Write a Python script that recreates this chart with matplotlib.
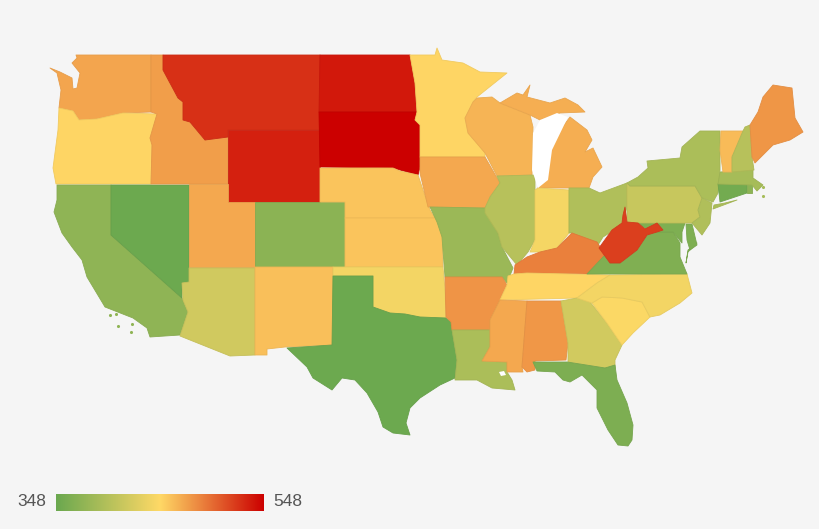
#!/usr/bin/env python3
"""US state choropleth, 348-548 scale running green to yellow to red."""

import numpy as np
import matplotlib
matplotlib.use("Agg")
import matplotlib.pyplot as plt
from matplotlib.colors import LinearSegmentedColormap, Normalize, to_rgb
from matplotlib.patches import Polygon

BG = "#f5f5f5"
SCALE_MIN, SCALE_MAX = 348, 548

states = ["WA", "OR", "CA", "NV", "ID", "MT", "WY", "UT", "AZ", "CO", "NM",
          "ND", "SD", "NE", "KS", "OK", "TX", "MN", "IA", "MO", "AR", "LA",
          "WI", "IL", "MI", "IN", "OH", "KY", "TN", "MS", "AL", "GA", "FL",
          "SC", "NC", "VA", "MD", "PA", "NY", "NJ", "CT", "RI", "MA",
          "VT", "NH", "ME", "WV"]
values = [472, 450, 373, 350, 475, 526, 533, 470, 416, 370, 460,
          537, 548, 458, 458, 440, 350, 450, 470, 381, 480, 392,
          465, 400, 468, 441, 395, 489, 450, 470, 478, 417, 361,
          445, 440, 363, 362, 411, 392, 395, 355, 372, 388,
          462, 400, 479, 519]

# outlines traced in image pixels
outlines = {
    "WA": [[(76, 55), (151, 55), (151, 112), (123, 113), (97, 119), (79, 120), (73, 111),
            (59, 108), (61, 90), (57, 73), (50, 68), (60, 72), (72, 78), (73, 89), (77, 88),
            (80, 73), (72, 63), (77, 58)]],
    "OR": [[(59, 108), (73, 111), (79, 120), (97, 119), (123, 113), (157, 114), (150, 138),
            (152, 145), (151, 184), (56, 184), (53, 168), (58, 130)]],
    "CA": [[(57, 185), (111, 185), (111, 235), (182, 298), (183, 300), (188, 312), (183, 327),
            (180, 335), (150, 337), (147, 328), (133, 318), (105, 307), (87, 277), (82, 260),
            (72, 247), (62, 233), (54, 212), (57, 200)]],
    "NV": [[(111, 185), (189, 185), (189, 282), (182, 283), (182, 298), (111, 235)]],
    "ID": [[(151, 55), (163, 55), (163, 70), (178, 98), (183, 102), (183, 120), (190, 122),
            (205, 140), (228, 137), (228, 184), (151, 184), (152, 145), (150, 138), (157, 114),
            (151, 112)]],
    "MT": [[(163, 55), (320, 55), (320, 130), (228, 130), (228, 137), (205, 140), (190, 122),
            (183, 120), (183, 102), (178, 98), (163, 70)]],
    "WY": [[(228, 130), (320, 130), (320, 202), (228, 202)]],
    "UT": [[(189, 184), (228, 184), (228, 202), (255, 202), (255, 267), (189, 267)]],
    "AZ": [[(189, 268), (255, 268), (255, 355), (230, 356), (180, 336), (183, 327), (188, 312),
            (183, 300), (182, 283), (189, 282)]],
    "CO": [[(255, 202), (345, 202), (345, 267), (255, 267)]],
    "NM": [[(255, 267), (333, 267), (333, 345), (285, 347), (267, 349), (267, 355), (255, 355)]],
    "ND": [[(320, 55), (410, 55), (415, 83), (417, 112), (319, 112)]],
    "SD": [[(319, 112), (417, 112), (415, 120), (420, 125), (420, 167), (418, 175), (400, 170),
            (393, 168), (320, 167)]],
    "NE": [[(320, 168), (393, 168), (400, 171), (418, 175), (423, 190), (430, 210), (435, 218),
            (345, 218), (345, 202), (320, 202)]],
    "KS": [[(345, 218), (435, 218), (442, 230), (443, 267), (345, 267)]],
    "OK": [[(333, 267), (443, 267), (445, 290), (446, 318), (420, 317), (405, 314), (390, 313),
            (373, 307), (373, 276), (333, 276)]],
    "TX": [[(333, 276), (373, 276), (373, 307), (390, 313), (405, 314), (420, 317), (446, 318),
            (451, 322), (452, 330), (457, 360), (455, 378), (440, 385), (420, 398), (410, 408),
            (406, 423), (410, 435), (393, 433), (383, 427), (378, 412), (367, 393), (355, 380),
            (342, 378), (332, 390), (313, 378), (307, 367), (287, 348), (332, 345)]],
    "MN": [[(410, 55), (435, 55), (437, 48), (442, 60), (463, 63), (480, 72), (507, 73),
            (477, 97), (473, 102), (465, 118), (468, 133), (485, 152), (485, 157), (420, 157),
            (420, 125), (415, 120), (417, 112), (415, 83)]],
    "IA": [[(420, 157), (485, 157), (500, 183), (490, 197), (485, 208), (428, 207), (420, 173)]],
    "MO": [[(430, 207), (485, 208), (498, 233), (502, 247), (513, 268), (507, 283),
            (502, 277), (445, 277), (442, 237), (437, 222)]],
    "AR": [[(445, 277), (502, 277), (507, 285), (500, 300), (490, 320), (490, 333), (488, 330),
            (452, 330), (451, 322), (446, 317)]],
    "LA": [[(452, 330), (490, 330), (490, 347), (482, 361), (507, 362), (507, 372), (512, 380),
            (515, 390), (492, 388), (477, 380), (455, 380), (457, 360)]],
    "WI": [[(477, 98), (492, 97), (500, 103), (530, 115), (533, 127), (532, 175), (497, 176),
            (485, 153), (468, 133), (465, 118), (473, 102)]],
    "IL": [[(497, 176), (535, 175), (535, 240), (528, 252), (517, 265), (502, 247), (498, 233),
            (485, 213), (485, 208), (490, 197), (500, 183)]],
    "MI": [[(500, 103), (517, 93), (523, 95), (530, 85), (527, 97), (550, 103), (565, 98),
            (578, 105), (585, 112), (560, 113), (540, 120), (530, 115)],
           [(570, 117), (587, 130), (592, 140), (585, 152), (593, 148), (602, 167), (593, 177),
            (589, 188), (538, 188), (550, 150), (555, 137)]],
    "IN": [[(535, 190), (538, 188), (569, 190), (569, 233), (557, 248), (540, 252), (530, 252),
            (535, 240)]],
    "OH": [[(569, 188), (589, 188), (600, 193), (627, 183), (627, 207), (622, 225), (603, 237),
            (598, 245), (572, 233), (569, 233)]],
    "KY": [[(514, 274), (515, 265), (527, 257), (540, 252), (557, 248), (572, 233), (597, 242),
            (605, 255), (587, 274), (527, 273)]],
    "TN": [[(508, 276), (514, 274), (527, 273), (610, 275), (597, 283), (577, 298), (500, 300),
            (507, 285)]],
    "MS": [[(500, 300), (527, 301), (522, 367), (523, 372), (507, 372), (507, 362), (482, 361),
            (490, 347), (490, 320)]],
    "AL": [[(527, 301), (561, 301), (568, 343), (566, 360), (535, 361), (535, 370), (527, 372),
            (522, 367)]],
    "GA": [[(561, 301), (577, 298), (590, 302), (607, 323), (622, 345), (615, 360), (615, 368),
            (605, 368), (568, 362), (568, 343)]],
    "FL": [[(533, 362), (567, 362), (605, 368), (615, 365), (617, 380), (627, 403), (633, 425),
            (632, 440), (628, 446), (618, 445), (608, 430), (597, 408), (597, 390), (582, 375),
            (570, 382), (563, 380), (555, 372), (537, 371)]],
    "SC": [[(592, 303), (602, 297), (622, 298), (642, 302), (650, 317), (633, 333), (622, 345),
            (607, 323)]],
    "NC": [[(610, 275), (687, 274), (692, 293), (680, 303), (660, 315), (650, 317), (642, 302),
            (622, 298), (602, 297), (592, 303), (577, 298), (597, 283)]],
    "VA": [[(587, 274), (605, 255), (610, 263), (620, 263), (637, 250), (647, 235), (657, 232),
            (673, 232), (680, 243), (680, 257), (687, 274)],
           [(697, 243), (688, 252), (686, 263), (688, 250)]],
    "WV": [[(625, 207), (627, 222), (638, 223), (645, 229), (657, 223), (663, 230), (657, 232),
            (647, 235), (637, 250), (620, 263), (610, 263), (599, 248), (612, 230), (622, 223),
            (623, 215)]],
    "MD": [[(638, 223), (685, 223), (682, 232), (682, 243), (673, 232), (650, 232)],
           [(686, 224), (692, 224), (697, 245), (690, 250), (687, 240)]],
    "PA": [[(627, 183), (630, 186), (695, 186), (702, 198), (698, 210), (700, 217), (692, 223),
            (627, 223)]],
    "NY": [[(627, 183), (638, 177), (648, 168), (647, 161), (680, 158), (682, 147), (700, 131),
            (720, 131), (720, 170), (718, 193), (713, 202), (702, 198), (695, 186), (630, 186)],
           [(713, 209), (737, 200), (725, 203), (714, 205)]],
    "NJ": [[(702, 198), (712, 203), (710, 223), (702, 235), (692, 223), (700, 217), (698, 210)]],
    "CT": [[(718, 184), (747, 184), (747, 193), (720, 202)]],
    "RI": [[(747, 184), (752, 184), (752, 193), (747, 193)]],
    "MA": [[(720, 172), (753, 170), (753, 178), (763, 185), (757, 191), (752, 185), (718, 184)]],
    "VT": [[(721, 131), (743, 131), (732, 157), (732, 172), (723, 172), (720, 150)]],
    "NH": [[(745, 127), (750, 125), (752, 157), (754, 170), (732, 172), (732, 157), (743, 131)]],
    "ME": [[(750, 125), (758, 112), (763, 97), (773, 85), (792, 88), (795, 118), (803, 132),
            (790, 140), (773, 145), (755, 163), (752, 157)]],
}

lake_michigan = [(533, 133), (532, 170), (538, 188), (548, 180), (552, 150), (568, 117),
                 (557, 113), (540, 120), (532, 135)]
lake_pontchartrain = [(499, 372), (504, 371), (506, 375), (501, 376)]

cmap = LinearSegmentedColormap.from_list("scale", ["#6aa84f", "#ffd966", "#cc0000"])
norm = Normalize(SCALE_MIN, SCALE_MAX)

fig = plt.figure(figsize=(8.2, 5.29), dpi=100, facecolor=BG)
ax = fig.add_axes([0, 0, 1, 1])
ax.set_xlim(0, 820)
ax.set_ylim(529, 0)
ax.axis("off")

for state, value in zip(states, values):
    face = cmap(norm(value))
    edge = tuple(c * 0.95 for c in to_rgb(face))
    for part in outlines[state]:
        ax.add_patch(Polygon(part, closed=True, facecolor=face, edgecolor=edge,
                             linewidth=0.6, joinstyle="round"))

ax.add_patch(Polygon(lake_michigan, closed=True, facecolor="white", edgecolor="none", zorder=3))
ax.add_patch(Polygon(lake_pontchartrain, closed=True, facecolor="white", edgecolor="none", zorder=3))

# islands too small to trace
ca_color = cmap(norm(values[states.index("CA")]))
ax.scatter([110, 116, 118, 132, 131], [315, 314, 326, 324, 332], s=5, color=ca_color,
           linewidths=0, zorder=3)
ax.scatter([763, 763], [187, 196], s=5, color=cmap(norm(values[states.index("MA")])),
           linewidths=0, zorder=3)

# legend
bar = fig.add_axes([56 / 820, 1 - 511 / 529, 208 / 820, 17 / 529])
bar.imshow(np.linspace(SCALE_MIN, SCALE_MAX, 256)[None, :], cmap=cmap, norm=norm, aspect="auto")
bar.axis("off")
for x, label, ha in [(46, SCALE_MIN, "right"), (273, SCALE_MAX, "left")]:
    ax.text(x, 501, str(label), ha=ha, va="center", fontsize=12.5,
            family="Liberation Sans", color="#555555")

fig.savefig("out.png", dpi=100, facecolor=BG)
